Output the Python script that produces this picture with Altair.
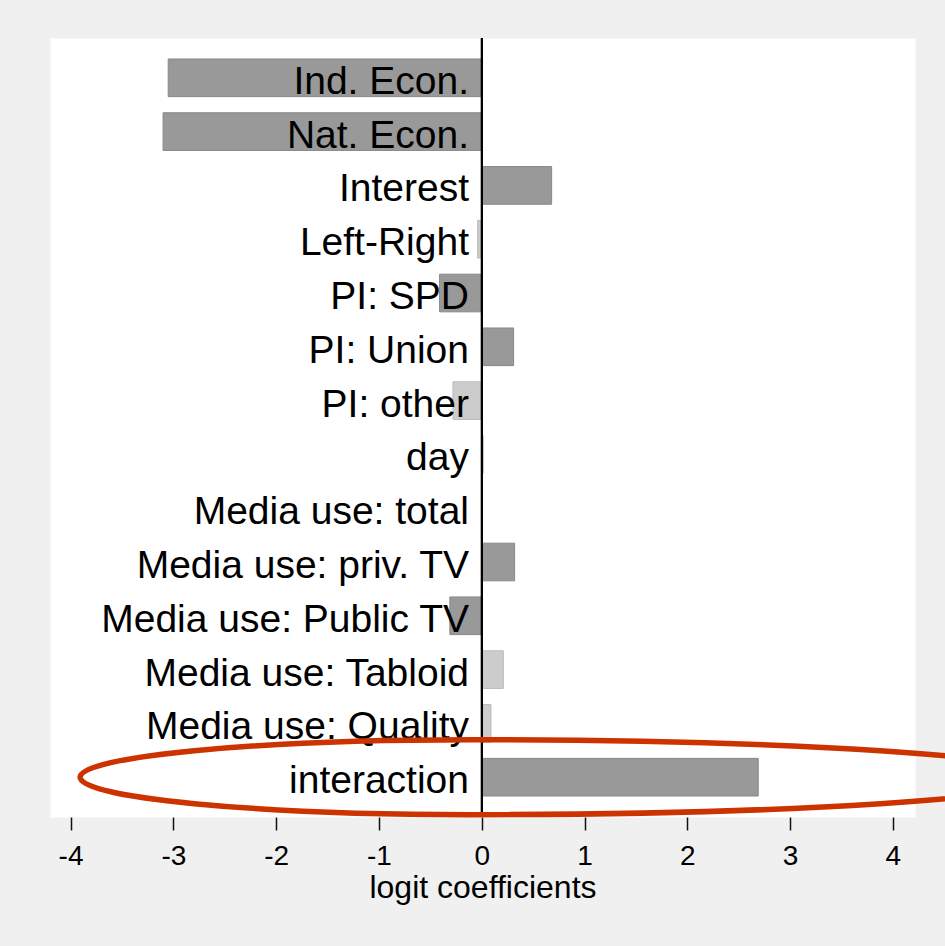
import altair as alt
import pandas as pd

labels = ["Ind. Econ.", "Nat. Econ.", "Interest", "Left-Right", "PI: SPD", "PI: Union",
          "PI: other", "day", "Media use: total", "Media use: priv. TV",
          "Media use: Public TV", "Media use: Tabloid", "Media use: Quality", "interaction"]
coefs = [-3.05, -3.10, 0.68, -0.04, -0.41, 0.31, -0.28, 0.015, 0.0, 0.32, -0.31, 0.21, 0.09, 2.69]
significant = ["yes", "yes", "yes", "no", "yes", "yes", "no", "no", "no", "yes", "yes", "no", "no", "yes"]

highlight_label = ["interaction"]
highlight_x = [-0.113]

df = pd.DataFrame({"label": labels, "coef": coefs, "sig": significant})
hl = pd.DataFrame({"label": highlight_label, "x": highlight_x})

FONT = "Liberation Sans"

yenc = alt.Y("label:N", sort=labels, axis=None,
             scale=alt.Scale(paddingInner=0.3, paddingOuter=0.39))

xscale = alt.Scale(domain=[-4.2, 4.215], nice=False, zero=False)

bars = alt.Chart(df).mark_bar(strokeWidth=1).encode(
    x=alt.X("coef:Q", scale=xscale,
            axis=alt.Axis(values=[-4, -3, -2, -1, 0, 1, 2, 3, 4],
                          labelExpr="'' + datum.value",
                          title="logit coefficients", grid=False, domain=False,
                          tickSize=13, tickWidth=1.5, tickColor="#111111",
                          labelFontSize=28, labelColor="#000000", labelFont=FONT,
                          labelPadding=12,
                          titleFont=FONT, titleFontSize=32, titleFontWeight="normal",
                          titleColor="#000000", titleBaseline="alphabetic", titleY=80)),
    x2=alt.datum(0),
    y=yenc,
    fill=alt.Color("sig:N", scale=alt.Scale(domain=["yes", "no"], range=["#999999", "#cccccc"]),
                   legend=None),
    stroke=alt.Color("sig:N", scale=alt.Scale(domain=["yes", "no"], range=["#888888", "#bbbbbb"]),
                     legend=None),
)

zero_rule = alt.Chart(df).mark_rule(color="#000000", strokeWidth=1.5).encode(
    x=alt.datum(0),
    y=alt.value(0),
    y2=alt.value(779),
)

texts = alt.Chart(df).mark_text(align="right", baseline="alphabetic", dy=16,
                                fontSize=39, font=FONT, color="#000000").encode(
    x=alt.value(419),
    y=yenc,
    text="label:N",
)

# asymmetric ellipse as cubic Bezier path (units: 1 = 600 px)
a, c, b, k = 0.65, 0.9667, 0.0625, 0.5523
ellipse_path = (
    f"M{-a},0 C{-a},{-k*b} {-k*a},{-b} 0,{-b} "
    f"C{k*c},{-b} {c},{-k*b} {c},0 "
    f"C{c},{k*b} {k*c},{b} 0,{b} "
    f"C{-k*a},{b} {-a},{k*b} {-a},0 Z"
)

ellipse = alt.Chart(hl).mark_point(shape=ellipse_path, size=1440000, filled=False,
                                   stroke="#cc3300", strokeWidth=5.5, opacity=1).encode(
    x=alt.X("x:Q", scale=xscale),
    y=alt.Y("label:N", sort=labels, axis=None),
)

chart = alt.layer(bars, zero_rule, texts, ellipse).properties(
    width=865, height=779,
    autosize=alt.AutoSizeParams(type="none"),
    padding={"left": 50, "top": 38, "right": 30, "bottom": 129},
).configure(background="#f0f0f0").configure_view(fill="#ffffff", stroke="transparent")

chart.save("out.html", embed_options={"renderer": "svg", "actions": False})
